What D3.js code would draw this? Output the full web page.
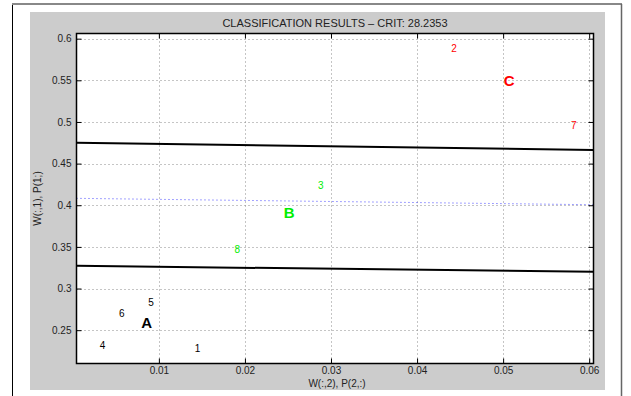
<!DOCTYPE html>
<html>
<head>
<meta charset="utf-8">
<script src="https://cdn.jsdelivr.net/npm/d3@7"></script>
<style>
  html, body { margin: 0; padding: 0; background: #ffffff; }
  svg { display: block; font-family: "Liberation Sans", Arial, Helvetica, sans-serif; }
</style>
</head>
<body>
<svg id="chart" width="631" height="396"></svg>
<script>
// Sample labels and their coordinates (W(:,2), W(:,1))
const pointLabels = ["1", "2", "3", "4", "5", "6", "7", "8"];
const pointX = [0.0145, 0.0443, 0.0288, 0.00345, 0.0091, 0.0057, 0.0582, 0.0191];
const pointY = [0.2275, 0.5877, 0.4234, 0.2320, 0.2828, 0.2700, 0.4956, 0.3470];
const pointClass = ["A", "C", "B", "A", "A", "A", "C", "B"];

// Class prototypes P
const classNames = ["A", "B", "C"];
const classX = [0.00857, 0.02515, 0.0507];
const classY = [0.2590, 0.3910, 0.5498];
const classColors = ["#000000", "#00ee00", "#ff0000"];

// Decision boundaries: [y at left edge, y at right edge]
const boundaryUpper = [0.4751, 0.4663];
const boundaryLower = [0.3273, 0.3201];
const midLine = [0.4083, 0.4006];

// Axis ticks
const xTicks = [0.01, 0.02, 0.03, 0.04, 0.05, 0.06];
const yTicks = [0.25, 0.3, 0.35, 0.4, 0.45, 0.5, 0.55, 0.6];
const xDomain = [0.00043, 0.0605];
const yDomain = [0.2100, 0.6062];

const titleText = "CLASSIFICATION RESULTS \u2013 CRIT: 28.2353";
const xLabel = "W(:,2), P(2,:)";
const yLabel = "W(:,1), P(1;)";

const svg = d3.select("#chart");

// Figure frame
svg.append("line").attr("x1", 12.5).attr("y1", 4).attr("x2", 12.5).attr("y2", 396)
  .attr("stroke", "#000").attr("stroke-width", 1);
svg.append("line").attr("x1", 12).attr("y1", 4).attr("x2", 622).attr("y2", 4)
  .attr("stroke", "#888").attr("stroke-width", 2);
svg.append("line").attr("x1", 621.5).attr("y1", 4).attr("x2", 621.5).attr("y2", 396)
  .attr("stroke", "#666").attr("stroke-width", 1.5);

// Grey panel
svg.append("rect").attr("x", 30).attr("y", 12).attr("width", 575).attr("height", 378)
  .attr("fill", "#cccccc");

const plot = { left: 76.5, right: 593.5, top: 33.5, bottom: 363.5 };
const x = d3.scaleLinear().domain(xDomain).range([plot.left, plot.right]);
const y = d3.scaleLinear().domain(yDomain).range([plot.bottom, plot.top]);

// Plot area
svg.append("rect").attr("x", plot.left).attr("y", plot.top)
  .attr("width", plot.right - plot.left).attr("height", plot.bottom - plot.top)
  .attr("fill", "#ffffff");

// Dotted grid
const grid = svg.append("g").attr("stroke", "#8a8a8a").attr("stroke-width", 1)
  .attr("stroke-dasharray", "1,3");
grid.selectAll("line.gx").data(xTicks).join("line").attr("class", "gx")
  .attr("x1", d => Math.round(x(d)) + 0.5).attr("x2", d => Math.round(x(d)) + 0.5)
  .attr("y1", plot.top).attr("y2", plot.bottom);
grid.selectAll("line.gy").data(yTicks).join("line").attr("class", "gy")
  .attr("y1", d => Math.round(y(d)) + 0.5).attr("y2", d => Math.round(y(d)) + 0.5)
  .attr("x1", plot.left).attr("x2", plot.right);

// Middle dotted line
svg.append("line")
  .attr("x1", x(xDomain[0])).attr("x2", x(xDomain[1]))
  .attr("y1", y(midLine[0])).attr("y2", y(midLine[1]))
  .attr("stroke", "#4444ff").attr("stroke-width", 1).attr("stroke-dasharray", "1,3");

// Boundaries
[boundaryUpper, boundaryLower].forEach(b => {
  svg.append("line")
    .attr("x1", x(xDomain[0])).attr("x2", x(xDomain[1]))
    .attr("y1", y(b[0])).attr("y2", y(b[1]))
    .attr("stroke", "#000").attr("stroke-width", 2);
});

// Axes (inward ticks on all sides, box on)
const tickLen = 5;
const axisFont = "10px";
const xAxisBottom = d3.axisBottom(x).tickValues(xTicks).tickSize(-tickLen).tickPadding(3)
  .tickFormat(d3.format(".2f"));
const xAxisTop = d3.axisTop(x).tickValues(xTicks).tickSize(-tickLen).tickFormat("");
const yAxisLeft = d3.axisLeft(y).tickValues(yTicks).tickSize(-tickLen).tickPadding(5)
  .tickFormat(d => d3.format("")(+d.toFixed(2)));
const yAxisRight = d3.axisRight(y).tickValues(yTicks).tickSize(-tickLen).tickFormat("");

function styleAxis(g) {
  g.select(".domain").remove();
  g.selectAll(".tick line").attr("stroke", "#000");
  g.selectAll(".tick text").attr("fill", "#222").style("font-size", axisFont)
    .style("font-family", "'Liberation Sans', Arial, sans-serif");
}
svg.append("g").attr("transform", `translate(0,${plot.bottom})`).call(xAxisBottom).call(styleAxis);
svg.append("g").attr("transform", `translate(0,${plot.top})`).call(xAxisTop).call(styleAxis);
svg.append("g").attr("transform", `translate(${plot.left},0)`).call(yAxisLeft).call(styleAxis);
svg.append("g").attr("transform", `translate(${plot.right},0)`).call(yAxisRight).call(styleAxis);

// Box
svg.append("rect").attr("x", plot.left).attr("y", plot.top)
  .attr("width", plot.right - plot.left).attr("height", plot.bottom - plot.top)
  .attr("fill", "none").attr("stroke", "#000").attr("stroke-width", 1.5);

// Sample numbers
svg.append("g").selectAll("text").data(pointLabels).join("text")
  .attr("x", (d, i) => x(pointX[i]))
  .attr("y", (d, i) => y(pointY[i]))
  .attr("text-anchor", "middle").attr("dominant-baseline", "central")
  .style("font-size", "10px")
  .attr("fill", (d, i) => classColors[classNames.indexOf(pointClass[i])])
  .text(d => d);

// Class prototypes
svg.append("g").selectAll("text").data(classNames).join("text")
  .attr("x", (d, i) => x(classX[i]))
  .attr("y", (d, i) => y(classY[i]))
  .attr("text-anchor", "middle").attr("dominant-baseline", "central")
  .style("font-size", "15px").style("font-weight", "bold")
  .attr("fill", (d, i) => classColors[i])
  .text(d => d);

// Title and axis labels
svg.append("text").attr("x", (plot.left + plot.right) / 2).attr("y", 23)
  .attr("text-anchor", "middle").attr("dominant-baseline", "central")
  .style("font-size", "11px").attr("fill", "#222").text(titleText);
svg.append("text").attr("x", (plot.left + plot.right) / 2 + 2).attr("y", 383.5)
  .attr("text-anchor", "middle").attr("dominant-baseline", "central")
  .style("font-size", "10px").attr("fill", "#222").text(xLabel);
svg.append("text")
  .attr("transform", `translate(37.5,${(plot.top + plot.bottom) / 2}) rotate(-90)`)
  .attr("text-anchor", "middle").attr("dominant-baseline", "central")
  .style("font-size", "10px").attr("fill", "#222").text(yLabel);
</script>
</body>
</html>
